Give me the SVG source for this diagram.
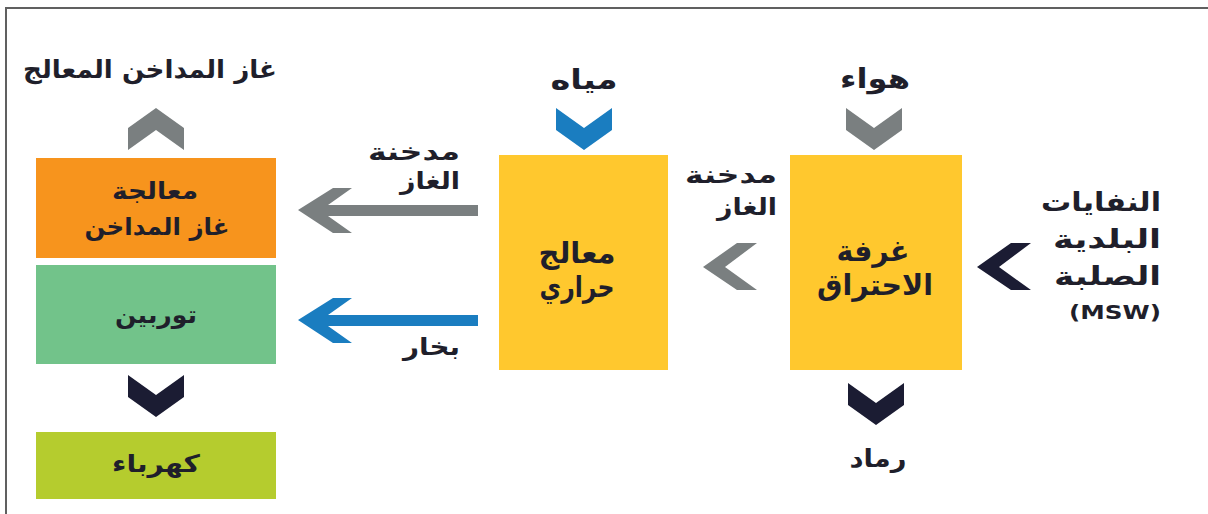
<svg xmlns="http://www.w3.org/2000/svg" width="1208" height="514" viewBox="0 0 1208 514">
<style>
  .t { font-family: "DejaVu Sans", "Noto Sans", sans-serif; font-weight: bold; fill: #1f1f2b; }
  .c { text-anchor: middle; }
  .e { text-anchor: end; }
  .gray { fill: #7a7f80; }
  .blue { fill: #1a7dc0; }
  .navy { fill: #1b1c33; }
</style>
<defs>
  <path id="chevDown" d="M0,0 L28,20 L56,0 L56,22 L28,42 L0,22 Z"/>
  <path id="chevUp" d="M0,42 L28,22 L56,42 L56,20 L28,0 L0,20 Z"/>
  <path id="chevLeft" d="M0,24 L34,0 L54,0 L22,24 L54,47 L34,47 Z"/>
  <path id="arrowLeft" d="M0,0 L35,-22 L54,-22 L30,-5 L180,-5 L180,6 L30,6 L54,23 L35,23 Z"/>
</defs>
<rect x="0" y="0" width="1208" height="514" fill="#ffffff"/>
<path d="M6,514 L6,8 L1208,8" fill="none" stroke="#606060" stroke-width="2"/>

<g id="node-flue-gas-treatment">
  <rect x="36" y="158" width="240" height="100" fill="#f7941d"/>
  <text class="t c" x="155" y="199" font-size="24" textLength="86" lengthAdjust="spacingAndGlyphs">معالجة</text>
  <text class="t c" x="157" y="235" font-size="24" textLength="145" lengthAdjust="spacingAndGlyphs">غاز المداخن</text>
</g>
<g id="node-turbine">
  <rect x="36" y="265" width="240" height="99" fill="#72c38a"/>
  <text class="t c" x="156" y="323" font-size="24" textLength="82" lengthAdjust="spacingAndGlyphs">توربين</text>
</g>
<g id="node-electricity">
  <rect x="36" y="432" width="240" height="67" fill="#b5cc2e"/>
  <text class="t c" x="156" y="472" font-size="24" textLength="88" lengthAdjust="spacingAndGlyphs">كهرباء</text>
</g>
<g id="node-heat-processor">
  <rect x="499" y="155" width="169" height="215" fill="#ffc82e"/>
  <text class="t c" x="577" y="263" font-size="29" textLength="77" lengthAdjust="spacingAndGlyphs">معالج</text>
  <text class="t c" x="577" y="297" font-size="29" textLength="75" lengthAdjust="spacingAndGlyphs">حراري</text>
</g>
<g id="node-combustion-chamber">
  <rect x="790" y="155" width="172" height="215" fill="#ffc82e"/>
  <text class="t c" x="873" y="261" font-size="29" textLength="73" lengthAdjust="spacingAndGlyphs">غرفة</text>
  <text class="t c" x="875" y="295" font-size="29" textLength="116" lengthAdjust="spacingAndGlyphs">الاحتراق</text>
</g>
<g id="label-treated-gas">
  <text class="t c" x="150" y="78" font-size="25" textLength="254" lengthAdjust="spacingAndGlyphs">غاز المداخن المعالج</text>
</g>
<g id="label-water">
  <text class="t c" x="584" y="89" font-size="27" textLength="67" lengthAdjust="spacingAndGlyphs">مياه</text>
</g>
<g id="label-air">
  <text class="t c" x="875" y="88" font-size="27" textLength="70" lengthAdjust="spacingAndGlyphs">هواء</text>
</g>
<g id="label-msw">
  <text class="t e" x="1161" y="211" font-size="26" textLength="120" lengthAdjust="spacingAndGlyphs">النفايات</text>
  <text class="t e" x="1161" y="248" font-size="26" textLength="108" lengthAdjust="spacingAndGlyphs">البلدية</text>
  <text class="t e" x="1161" y="285" font-size="26" textLength="107" lengthAdjust="spacingAndGlyphs">الصلبة</text>
  <text class="t e" x="1161" y="319" font-size="19" textLength="92" lengthAdjust="spacingAndGlyphs">(MSW)</text>
</g>
<g id="label-ash">
  <text class="t c" x="878" y="467" font-size="25" textLength="57" lengthAdjust="spacingAndGlyphs">رماد</text>
</g>

<g id="connectors">
  <use href="#chevUp" x="128" y="108" class="gray"/>
  <use href="#chevDown" x="128" y="375" class="navy"/>
  <use href="#chevDown" x="556" y="108" class="blue"/>
  <use href="#chevDown" x="846" y="108" class="gray"/>
  <use href="#chevDown" x="848" y="383" class="navy"/>
  <use href="#chevLeft" x="703" y="243" class="gray"/>
  <use href="#chevLeft" x="977" y="243" class="navy"/>
  <use href="#arrowLeft" x="298" y="210" class="gray"/>
  <use href="#arrowLeft" x="298" y="320" class="blue"/>
  <text class="t e" x="460" y="160" font-size="24" textLength="92" lengthAdjust="spacingAndGlyphs">مدخنة</text>
  <text class="t e" x="460" y="189" font-size="24" textLength="60" lengthAdjust="spacingAndGlyphs">الغاز</text>
  <text class="t e" x="460" y="355" font-size="24" textLength="57" lengthAdjust="spacingAndGlyphs">بخار</text>
  <text class="t e" x="777" y="183" font-size="24" textLength="92" lengthAdjust="spacingAndGlyphs">مدخنة</text>
  <text class="t e" x="777" y="215" font-size="24" textLength="60" lengthAdjust="spacingAndGlyphs">الغاز</text>
</g>
</svg>
